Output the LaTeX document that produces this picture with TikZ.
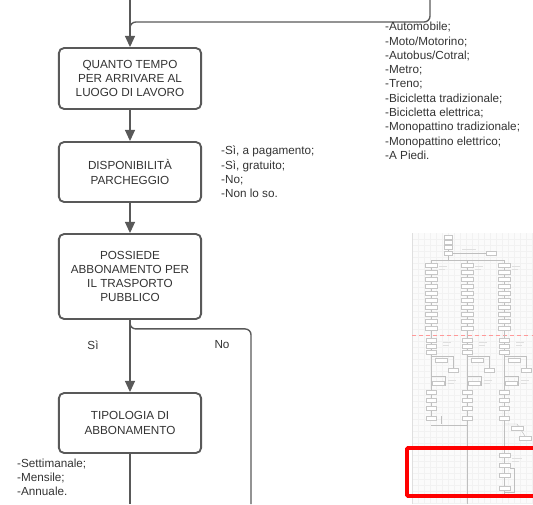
\documentclass[tikz,border=0pt]{standalone}
\usepackage{fontspec}
\setmainfont{Liberation Sans}
\usetikzlibrary{arrows.meta}

\definecolor{linegray}{HTML}{595959}
\definecolor{textgray}{HTML}{333333}

\begin{document}
\begin{tikzpicture}[x=0.03cm, y=-0.03cm,
    every node/.style={font=\fontsize{10}{12.2}\selectfont, text=textgray},
    qbox/.style={draw=linegray, line width=1.6pt, rounded corners=4.5pt, fill=white,
                 align=center, minimum width=4.27cm, inner sep=2pt},
    link/.style={draw=linegray, line width=1.2pt, rounded corners=5pt},
    arr/.style={link, -{Triangle[width=8.5pt, length=9.5pt]}},
    answers/.style={anchor=north west, align=left, inner sep=0pt},
    minibox/.style={draw=gray!45, line width=0.3pt, fill=white},
    miniline/.style={draw=gray!50, line width=0.4pt}]
    \useasboundingbox (0,0) rectangle (533,504);

    % minimap in the corner
    \fill[gray!3] (412,233) rectangle (533,504);
    \foreach \gx in {418,424,...,532}
        \draw[gray!10, line width=0.2pt] (\gx,233) -- (\gx,504);
    \foreach \gy in {239,245,...,503}
        \draw[gray!10, line width=0.2pt] (412,\gy) -- (533,\gy);
    \draw[gray!25, line width=0.3pt] (412,233) -- (412,504);
    \draw[red!40, dashed, line width=0.5pt] (412,335) -- (533,335);
    \draw[red!40, dashed, line width=0.5pt] (412,494) -- (533,494);

    \draw[miniline] (448,236) -- (448,260);
    \draw[miniline] (452,253) -- (491,253);
    \draw[miniline] (431,260) -- (504,260);
    \foreach \my in {237,242,247,253}
        \draw[minibox] (444,\my-2) rectangle (452,\my+2);
    \draw[minibox] (486,251) rectangle (496,255);
    \draw[gray!25, line width=0.8pt] (462,249) -- (476,249);

    \foreach \cx in {431,467,504} {
        \draw[miniline] (\cx,260) -- (\cx,420);
        \foreach \my in {265,272,...,328}
            \draw[minibox] (\cx-6,\my-2) rectangle (\cx+6,\my+2);
        \draw[gray!25, line width=0.8pt] (\cx+8,266) -- (\cx+16,266);
        \draw[gray!25, line width=0.8pt] (\cx+8,269) -- (\cx+14,269);
        \foreach \my in {340,346,352,392,400,408,418}
            \draw[minibox] (\cx-5,\my-2) rectangle (\cx+5,\my+2);
        \draw[miniline] (\cx,356) -| (\cx+22,370);
        \draw[miniline] (\cx,376) -- (\cx+14,376) -- (\cx+14,386);
        \draw[minibox] (\cx+4,358) rectangle (\cx+16,362);
        \draw[minibox] (\cx+17,368) rectangle (\cx+27,372);
        \draw[minibox] (\cx+1,381) rectangle (\cx+13,385);
        \draw[gray!25, line width=0.8pt] (\cx+12,342) -- (\cx+20,342);
        \draw[gray!25, line width=0.8pt] (\cx+12,345) -- (\cx+18,345);
        \draw[gray!25, line width=0.8pt] (\cx+17,380) -- (\cx+25,380);
        \draw[gray!25, line width=0.8pt] (\cx+17,383) -- (\cx+23,383);
    }
    \draw[miniline] (431,425) -- (467,425);
    \draw[miniline] (441,416) -- (441,424);
    \draw[miniline] (467,420) -- (467,504);
    \draw[miniline] (504,420) -- (504,494);
    \draw[miniline] (504,424) -- (517,424) -- (525,436);
    \draw[minibox] (511,426) rectangle (523,430);
    \draw[minibox] (519,436) rectangle (531,440);
    \draw[miniline] (504,448) -- (530,448);
    \foreach \my in {455,465,475,488}
        \draw[minibox] (499,\my-2) rectangle (510,\my+2);
    \draw[miniline] (510,468) -- (514,468) -- (514,492) -- (504,492);
    \draw[gray!25, line width=0.8pt] (512,458) -- (522,458);
    \draw[gray!25, line width=0.8pt] (512,461) -- (519,461);
    \draw[red, line width=3.4pt, rounded corners=1pt] (536,448) -- (407,448) -- (407,496) -- (536,496);

    % flow chart
    \node[qbox, minimum height=1.83cm] (tempo) at (130,78.5) {QUANTO TEMPO\\PER ARRIVARE AL\\LUOGO DI LAVORO};
    \node[qbox, minimum height=1.8cm] (parcheggio) at (130,172) {DISPONIBILITÀ\\PARCHEGGIO};
    \node[qbox, minimum height=2.55cm] (abbonamento) at (130,276.5) {POSSIEDE\\ABBONAMENTO PER\\IL TRASPORTO\\PUBBLICO};
    \node[qbox, minimum height=1.8cm] (tipologia) at (130,423) {TIPOLOGIA DI\\ABBONAMENTO};

    \coordinate (in1) at (130,0);
    \coordinate (in2) at (430,0);
    \coordinate (join) at (130,32);
    \coordinate (nofine) at (251,504);
    \coordinate (sifine) at (130,504);

    \draw[arr] (in1) -- (tempo);
    \draw[link] (in2) -- ++(0,22) -| (join);
    \draw[arr] (tempo) -- (parcheggio);
    \draw[arr] (parcheggio) -- (abbonamento);
    \draw[arr] (abbonamento) -- (tipologia);
    \draw[link] (abbonamento.south) -- ++(0,9) -| (nofine);
    \draw[link] (tipologia) -- (sifine);

    \node (si) at (93,345) {Sì};
    \node (no) at (222,345) {No};

    \node[answers] (mezzi) at (385,22) {-Automobile;\\-Moto/Motorino;\\-Autobus/Cotral;\\-Metro;\\-Treno;\\-Bicicletta tradizionale;\\-Bicicletta elettrica;\\-Monopattino tradizionale;\\-Monopattino elettrico;\\-A Piedi.};
    \node[answers] (posti) at (221,146) {-Sì, a pagamento;\\-Sì, gratuito;\\-No;\\-Non lo so.};
    \node[answers] (tipi) at (17,458.5) {-Settimanale;\\-Mensile;\\-Annuale.};
\end{tikzpicture}
\end{document}
